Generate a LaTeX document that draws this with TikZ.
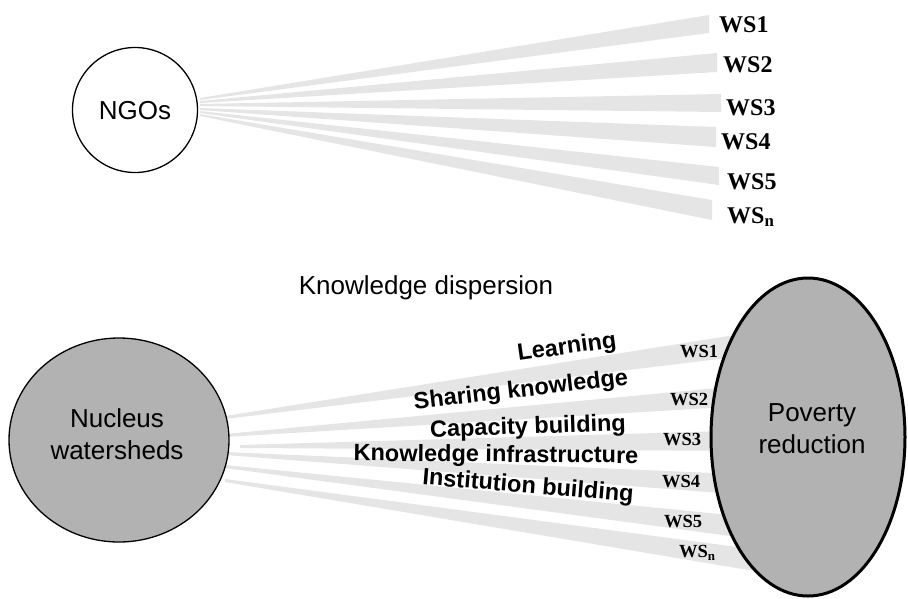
\documentclass[tikz,border=0pt]{standalone}
\usepackage{fontspec}
\setmainfont{Liberation Sans}
\newfontfamily\wsfont{Liberation Serif}
\usetikzlibrary{shapes.geometric}
\definecolor{bandgray}{RGB}{229,229,229}
\definecolor{blobgray}{RGB}{178,178,178}
\tikzset{
  band/.style={fill=bandgray},
  bigtext/.style={font=\fontsize{26}{32}\selectfont, align=center, inner sep=0pt},
  lab/.style={font=\bfseries\fontsize{23.5}{26}\selectfont, inner sep=0pt},
  wstop/.style={font=\wsfont\bfseries\fontsize{24}{26}\selectfont, inner sep=0pt, anchor=west},
  wsbot/.style={font=\wsfont\bfseries\fontsize{18.5}{20}\selectfont, inner sep=0pt, anchor=west},
}
\begin{document}
\begin{tikzpicture}[x=1pt,y=-1pt]
\useasboundingbox (0,0) rectangle (908,598);
% top bands
\fill[band] (200,98) -- (709,15) -- (709,33) -- (200,100) -- cycle;
\fill[band] (200,101) -- (717,53) -- (717,72) -- (200,103) -- cycle;
\fill[band] (200,104) -- (721,94) -- (721,112) -- (200,106) -- cycle;
\fill[band] (200,108) -- (716,127) -- (716,147) -- (200,110) -- cycle;
\fill[band] (200,111) -- (719,167) -- (719,185) -- (200,113) -- cycle;
\fill[band] (200,114) -- (712,200) -- (712,220) -- (200,116) -- cycle;
% bottom bands
\fill[band] (225,416) -- (760,331) -- (760,354) -- (225,419) -- cycle;
\fill[band] (225,434) -- (760,384) -- (760,405) -- (225,437) -- cycle;
\fill[band] (240,445) -- (760,430) -- (760,451) -- (240,448) -- cycle;
\fill[band] (225,452) -- (760,475) -- (760,496) -- (225,455) -- cycle;
\fill[band] (225,465) -- (760,518) -- (760,540) -- (225,468) -- cycle;
\fill[band] (225,479) -- (760,550) -- (760,572) -- (225,482) -- cycle;
% main nodes
\node[circle, draw, line width=1.3pt, fill=white, minimum size=125pt, inner sep=0pt] (ngo) at (135,110) {};
\node[bigtext] (ngot) at (135,111) {NGOs};
\node[ellipse, draw, line width=1.3pt, fill=blobgray, minimum width=220pt, minimum height=204pt, inner sep=0pt] (nuc) at (119,440) {};
\node[bigtext] (nuct) at (117,434) {Nucleus\\watersheds};
\node[ellipse, draw, line width=3pt, fill=blobgray, minimum width=194pt, minimum height=318pt, inner sep=0pt] (pov) at (808,437) {};
\node[bigtext] (povt) at (812,429) {Poverty\\reduction};
\node[bigtext] (kd) at (426,288) {Knowledge dispersion};
% top WS labels
\node[wstop] (t1) at (719,25) {WS1};
\node[wstop] (t2) at (723,65) {WS2};
\node[wstop] (t3) at (726,108) {WS3};
\node[wstop] (t4) at (721,142) {WS4};
\node[wstop] (t5) at (727,182) {WS5};
\node[wstop] (t6) at (727,217) {WS\textsubscript{n}};
% bottom WS labels
\node[wsbot] (b1) at (680,352) {WS1};
\node[wsbot] (b2) at (670,400) {WS2};
\node[wsbot] (b3) at (663,440) {WS3};
\node[wsbot] (b4) at (662,482) {WS4};
\node[wsbot] (b5) at (664,522) {WS5};
\node[wsbot] (b6) at (679,553) {WS\textsubscript{n}};
% rotated labels
\node[lab, rotate=8] (l1) at (567,348) {Learning};
\node[lab, rotate=6.6] (l2) at (521,391) {Sharing knowledge};
\node[lab, rotate=2] (l3) at (528,428) {Capacity building};
\node[lab, rotate=-0.5] (l4) at (496,456) {Knowledge infrastructure};
\node[lab, rotate=-4.7] (l5) at (528,487) {Institution building};
\end{tikzpicture}
\end{document}
